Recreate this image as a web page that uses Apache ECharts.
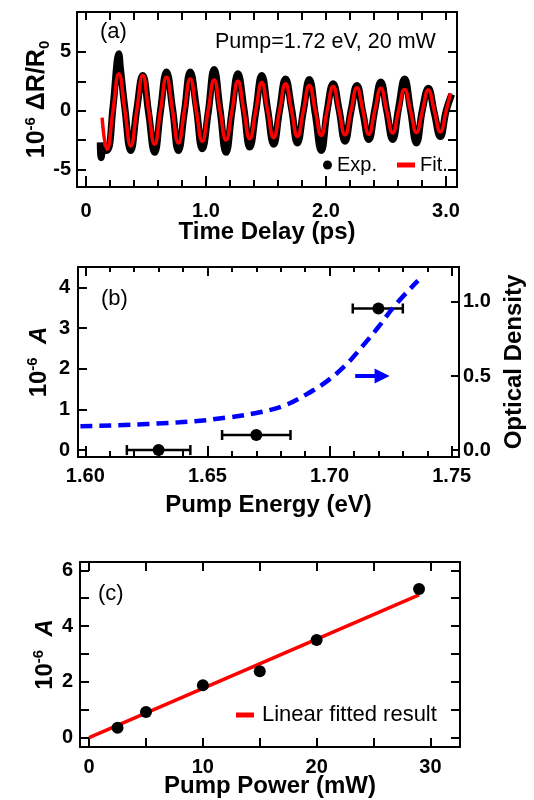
<!DOCTYPE html>
<html><head><meta charset="utf-8">
<script src="https://cdn.jsdelivr.net/npm/echarts@6/dist/echarts.min.js"></script>
<style>html,body{margin:0;padding:0;background:#fff}#c{width:534px;height:800px}</style>
</head><body><div id="c"></div>
<script>
// ---------- Panel (a) data ----------
const fitTime = [0.134,0.175,0.225,0.274,0.324,0.373,0.423,0.473,0.522,0.572,0.621,0.671,0.721,0.770,0.820,0.869,0.919,0.969,1.018,1.068,1.117,1.167,1.217,1.266,1.316,1.365,1.415,1.465,1.514,1.564,1.613,1.663,1.713,1.762,1.812,1.861,1.911,1.961,2.010,2.060,2.109,2.159,2.209,2.258,2.308,2.357,2.407,2.457,2.506,2.556,2.605,2.655,2.705,2.754,2.804,2.853,2.903,2.953,3.002,3.038];
const fitValue = [-0.6,-3.3,0,3.15,0,-3.0,0,3.0,0,-2.85,0,2.85,0,-2.75,0,2.7,0,-2.6,0,2.6,0,-2.5,0,2.5,0,-2.4,0,2.4,0,-2.3,0,2.3,0,-2.2,0,2.15,0,-2.1,0,2.05,0,-2.05,0,1.95,0,-2.0,0,1.9,0,-1.9,0,1.8,0,-1.85,0,1.75,0,-1.8,0,1.5];
const expTime = [0.119,0.127,0.145,0.175,0.225,0.259,0.272,0.287,0.324,0.373,0.423,0.473,0.522,0.572,0.621,0.671,0.721,0.770,0.820,0.869,0.919,0.969,1.018,1.068,1.117,1.167,1.217,1.266,1.316,1.365,1.415,1.465,1.514,1.564,1.613,1.663,1.713,1.762,1.812,1.861,1.911,1.961,2.010,2.060,2.109,2.159,2.209,2.258,2.308,2.357,2.407,2.457,2.506,2.556,2.605,2.655,2.705,2.754,2.804,2.853,2.903,2.953,3.002,3.048];
const expValue = [-2.7,-4.0,-3.3,-3.4,0.3,4.2,4.85,3.6,0.2,-3.4,0.1,3.0,-0.2,-3.55,0.0,3.3,0.2,-3.4,-0.1,3.3,0.3,-3.25,-0.2,3.5,0.1,-3.55,0.0,3.15,0.2,-3.1,-0.1,3.0,0.1,-2.85,0.0,2.7,0.2,-2.75,0.0,2.65,-0.3,-3.4,0.0,2.3,0.1,-2.6,0.0,2.15,-0.2,-2.45,0.1,2.45,0.0,-2.45,0.2,2.7,0.0,-2.75,0.1,1.9,-0.2,-2.2,0.0,1.4];
const timeTicks = [0,0.2,0.4,0.6,0.8,1.0,1.2,1.4,1.6,1.8,2.0,2.2,2.4,2.6,2.8,3.0];
const timeLabels = [0,1,2,3];
const dRTicks = [-5,-2.5,0,2.5,5];
const dRLabels = [-5,0,5];

// ---------- Panel (b) data ----------
const energy = [1.63,1.67,1.72];
const ampB = [0.0,0.37,3.48];
const energyErrLow = [1.617,1.656,1.7095];
const energyErrHigh = [1.643,1.684,1.730];
const odEnergy = [1.598,1.6386,1.6589,1.6725,1.682,1.6901,1.6983,1.7064,1.7131,1.7199,1.7267,1.7362];
const odValue = [0.160,0.187,0.221,0.259,0.304,0.372,0.457,0.570,0.694,0.829,0.975,1.144];
const arrowEnergy = [1.7105,1.7215];
const arrowOD = 0.5;
const energyMajor = [1.60,1.65,1.70,1.75];
const energyMinor = [1.60,1.61,1.62,1.63,1.64,1.65,1.66,1.67,1.68,1.69,1.70,1.71,1.72,1.73,1.74,1.75];
const ampBTicks = [0,1,2,3,4];
const odTicks = [0,0.5,1.0];

// ---------- Panel (c) data ----------
const power = [2.5,5,10,15,20,29];
const ampC = [0.35,0.92,1.88,2.38,3.5,5.33];
const fitPower = [0,29];
const fitAmp = [0,5.12];
const powerTicks = [0,5,10,15,20,25,30];
const powerLabels = [0,10,20,30];
const ampCTicks = [0,1,2,3,4,5,6];
const ampCLabels = [0,2,4,6];

const FONT = 'Liberation Sans, Arial, Helvetica, sans-serif';
const BLK = '#000';

function axis(o) {
  return {
    type: 'value', gridIndex: o.grid, position: o.pos, min: o.min, max: o.max,
    axisLine: { show: true, onZero: false, lineStyle: { color: BLK, width: 2 } },
    axisTick: { show: true, inside: true, length: o.tickLen || 8, customValues: o.ticks,
                lineStyle: { color: BLK, width: 2 } },
    axisLabel: o.labels ? { show: true, customValues: o.labels, formatter: o.fmt,
                color: BLK, fontSize: 20, fontWeight: 'bold', fontFamily: FONT, margin: o.margin } : { show: false },
    splitLine: { show: false },
    name: o.name, nameLocation: 'middle', nameGap: o.nameGap, nameRotate: o.nameRotate,
    nameMoveOverlap: false,
    nameTextStyle: o.nameStyle
  };
}
const titleStyle = { color: BLK, fontSize: 24, fontWeight: 'bold', fontFamily: FONT };
function richY(fs) {
  return {
    color: BLK, fontFamily: FONT,
    rich: {
      b: { fontSize: fs, fontWeight: 'bold', color: BLK, fontFamily: FONT, lineHeight: fs + 4 },
      i: { fontSize: fs, fontWeight: 'bold', fontStyle: 'italic', color: BLK, fontFamily: FONT, lineHeight: fs + 4 },
      sup: { fontSize: 15, fontWeight: 'bold', color: BLK, fontFamily: FONT, verticalAlign: 'top', lineHeight: fs + 4, padding: [0,0,11,0] },
      sub: { fontSize: 15, fontWeight: 'bold', color: BLK, fontFamily: FONT, verticalAlign: 'bottom', lineHeight: fs + 4, padding: [9,0,0,0] }
    }
  };
}

const chart = echarts.init(document.getElementById('c'), null, { renderer: 'canvas' });
chart.setOption({
  animation: false,
  backgroundColor: '#fff',
  grid: [
    { left: 77, top: 12, width: 380, height: 175 },
    { left: 78, top: 267, width: 385, height: 190 },
    { left: 80, top: 562, width: 380, height: 185 }
  ],
  xAxis: [
    axis({ grid: 0, pos: 'bottom', min: -0.075, max: 3.092, ticks: timeLabels, tickLen: 11, labels: timeLabels,
           fmt: v => v === 0 ? '0' : v.toFixed(1), margin: 14,
           name: 'Time Delay (ps)', nameGap: 33, nameStyle: titleStyle }),
    axis({ grid: 0, pos: 'bottom', min: -0.075, max: 3.092, ticks: timeTicks, tickLen: 7 }),
    axis({ grid: 0, pos: 'top', min: -0.075, max: 3.092, ticks: timeTicks, tickLen: 8 }),
    axis({ grid: 1, pos: 'bottom', min: 1.597, max: 1.753, ticks: energyMajor, tickLen: 11, labels: energyMajor,
           fmt: v => v.toFixed(2), margin: 9,
           name: 'Pump Energy (eV)', nameGap: 36, nameStyle: titleStyle }),
    axis({ grid: 1, pos: 'bottom', min: 1.597, max: 1.753, ticks: energyMinor, tickLen: 6 }),
    axis({ grid: 1, pos: 'top', min: 1.597, max: 1.753, ticks: energyMajor, tickLen: 9 }),
    axis({ grid: 1, pos: 'top', min: 1.597, max: 1.753, ticks: energyMinor, tickLen: 5 }),
    axis({ grid: 2, pos: 'bottom', min: -0.8, max: 32.6, ticks: powerTicks, tickLen: 9, labels: powerLabels,
           fmt: v => String(v), margin: 10,
           name: 'Pump Power (mW)', nameGap: 27, nameStyle: titleStyle }),
    axis({ grid: 2, pos: 'top', min: -0.8, max: 32.6, ticks: powerTicks, tickLen: 9 })
  ],
  yAxis: [
    axis({ grid: 0, pos: 'left', min: -6.5, max: 8.4, ticks: dRTicks, tickLen: 9, labels: dRLabels,
           fmt: v => String(v), margin: 6,
           name: '{b|10}{sup|-6}{b| ΔR/R}{sub|0}', nameGap: 25, nameRotate: 90, nameStyle: richY(25) }),
    axis({ grid: 0, pos: 'right', min: -6.5, max: 8.4, ticks: dRTicks, tickLen: 9 }),
    axis({ grid: 1, pos: 'left', min: -0.17, max: 4.5, ticks: ampBTicks, tickLen: 9, labels: ampBTicks,
           fmt: v => String(v), margin: 8,
           name: '{b|10}{sup|-6}{b|  }{i|A}', nameGap: 25, nameRotate: 90, nameStyle: richY(24) }),
    axis({ grid: 1, pos: 'right', min: -0.047, max: 1.236, ticks: odTicks, tickLen: 8, labels: odTicks,
           fmt: v => v.toFixed(1), margin: 4,
           name: 'Optical Density', nameGap: 43, nameRotate: 90, nameStyle: titleStyle }),
    axis({ grid: 2, pos: 'left', min: -0.34, max: 6.3, ticks: ampCTicks, tickLen: 9, labels: ampCLabels,
           fmt: v => String(v), margin: 7,
           name: '{b|10}{sup|-6}{b|  }{i|A}', nameGap: 21, nameRotate: 90, nameStyle: richY(24) }),
    axis({ grid: 2, pos: 'right', min: -0.34, max: 6.3, ticks: ampCTicks, tickLen: 9 })
  ],
  legend: [
    { data: ['Exp.'], left: 323, top: 155, icon: 'circle', itemWidth: 9, itemHeight: 9, padding: 0, selectedMode: false,
      textStyle: { fontSize: 20, color: BLK, fontFamily: FONT } },
    { data: ['Fit.'], left: 397, top: 155, icon: 'rect', itemWidth: 18, itemHeight: 5, padding: 0, selectedMode: false,
      textStyle: { fontSize: 20, color: BLK, fontFamily: FONT } },
    { data: ['Linear fitted result'], left: 236, top: 704, icon: 'rect', itemWidth: 18, itemHeight: 5, padding: 0, selectedMode: false,
      textStyle: { fontSize: 22, color: BLK, fontFamily: FONT, padding: [0,0,0,3] } }
  ],
  graphic: [
    { type: 'text', left: 100, top: 21, style: { text: '(a)', fontSize: 22, fontFamily: FONT, fill: BLK } },
    { type: 'text', left: 215, top: 31, style: { text: 'Pump=1.72 eV, 20 mW', fontSize: 21.5, fontFamily: FONT, fill: BLK } },
    { type: 'text', left: 101, top: 288, style: { text: '(b)', fontSize: 22, fontFamily: FONT, fill: BLK } },
    { type: 'text', left: 98, top: 583, style: { text: '(c)', fontSize: 22, fontFamily: FONT, fill: BLK } }
  ],
  series: [
    { name: 'Exp.', type: 'line', xAxisIndex: 0, yAxisIndex: 0, data: expTime.map((t, i) => [t, expValue[i]]),
      showSymbol: false, symbol: 'circle', smooth: 0.45, itemStyle: { color: BLK },
      lineStyle: { color: BLK, width: 7 }, z: 2 },
    { name: 'Fit.', type: 'line', xAxisIndex: 0, yAxisIndex: 0, data: fitTime.map((t, i) => [t, fitValue[i]]),
      showSymbol: false, smooth: 0.5, itemStyle: { color: '#ff0000' },
      lineStyle: { color: '#ff0000', width: 3.5 }, z: 3 },
    { name: 'OD', type: 'line', xAxisIndex: 3, yAxisIndex: 3, data: odEnergy.map((e, i) => [e, odValue[i]]),
      showSymbol: false, smooth: 0.4, lineStyle: { color: '#0000ff', width: 4.5, type: [12, 7] },
      markLine: { silent: true, symbol: ['none', 'triangle'], symbolSize: 15,
        label: { show: false }, lineStyle: { color: '#0000ff', width: 4, type: 'solid' },
        itemStyle: { color: '#0000ff' },
        data: [[{ coord: [arrowEnergy[0], arrowOD] }, { coord: [arrowEnergy[1], arrowOD] }]] } },
    { name: 'errB', type: 'custom', xAxisIndex: 3, yAxisIndex: 2,
      data: energy.map((e, i) => [e, ampB[i], energyErrLow[i], energyErrHigh[i]]),
      encode: { x: 0, y: 1 },
      renderItem: (params, api) => {
        const y = api.value(1);
        const a = api.coord([api.value(2), y]);
        const b = api.coord([api.value(3), y]);
        const st = { stroke: BLK, lineWidth: 2.5 };
        const cap = 5;
        return { type: 'group', children: [
          { type: 'line', shape: { x1: a[0], y1: a[1], x2: b[0], y2: b[1] }, style: st },
          { type: 'line', shape: { x1: a[0], y1: a[1] - cap, x2: a[0], y2: a[1] + cap }, style: st },
          { type: 'line', shape: { x1: b[0], y1: b[1] - cap, x2: b[0], y2: b[1] + cap }, style: st }
        ] };
      }, z: 3 },
    { name: 'ptsB', type: 'scatter', xAxisIndex: 3, yAxisIndex: 2, data: energy.map((e, i) => [e, ampB[i]]),
      symbolSize: 12, itemStyle: { color: BLK, opacity: 1 }, z: 4 },
    { name: 'Linear fitted result', type: 'line', xAxisIndex: 7, yAxisIndex: 4, data: fitPower.map((p, i) => [p, fitAmp[i]]),
      showSymbol: false, itemStyle: { color: '#ff0000' }, lineStyle: { color: '#ff0000', width: 3.5 }, z: 2 },
    { name: 'ptsC', type: 'scatter', xAxisIndex: 7, yAxisIndex: 4, data: power.map((p, i) => [p, ampC[i]]),
      symbolSize: 12, itemStyle: { color: BLK, opacity: 1 }, z: 4 }
  ]
});
</script>
</body></html>
